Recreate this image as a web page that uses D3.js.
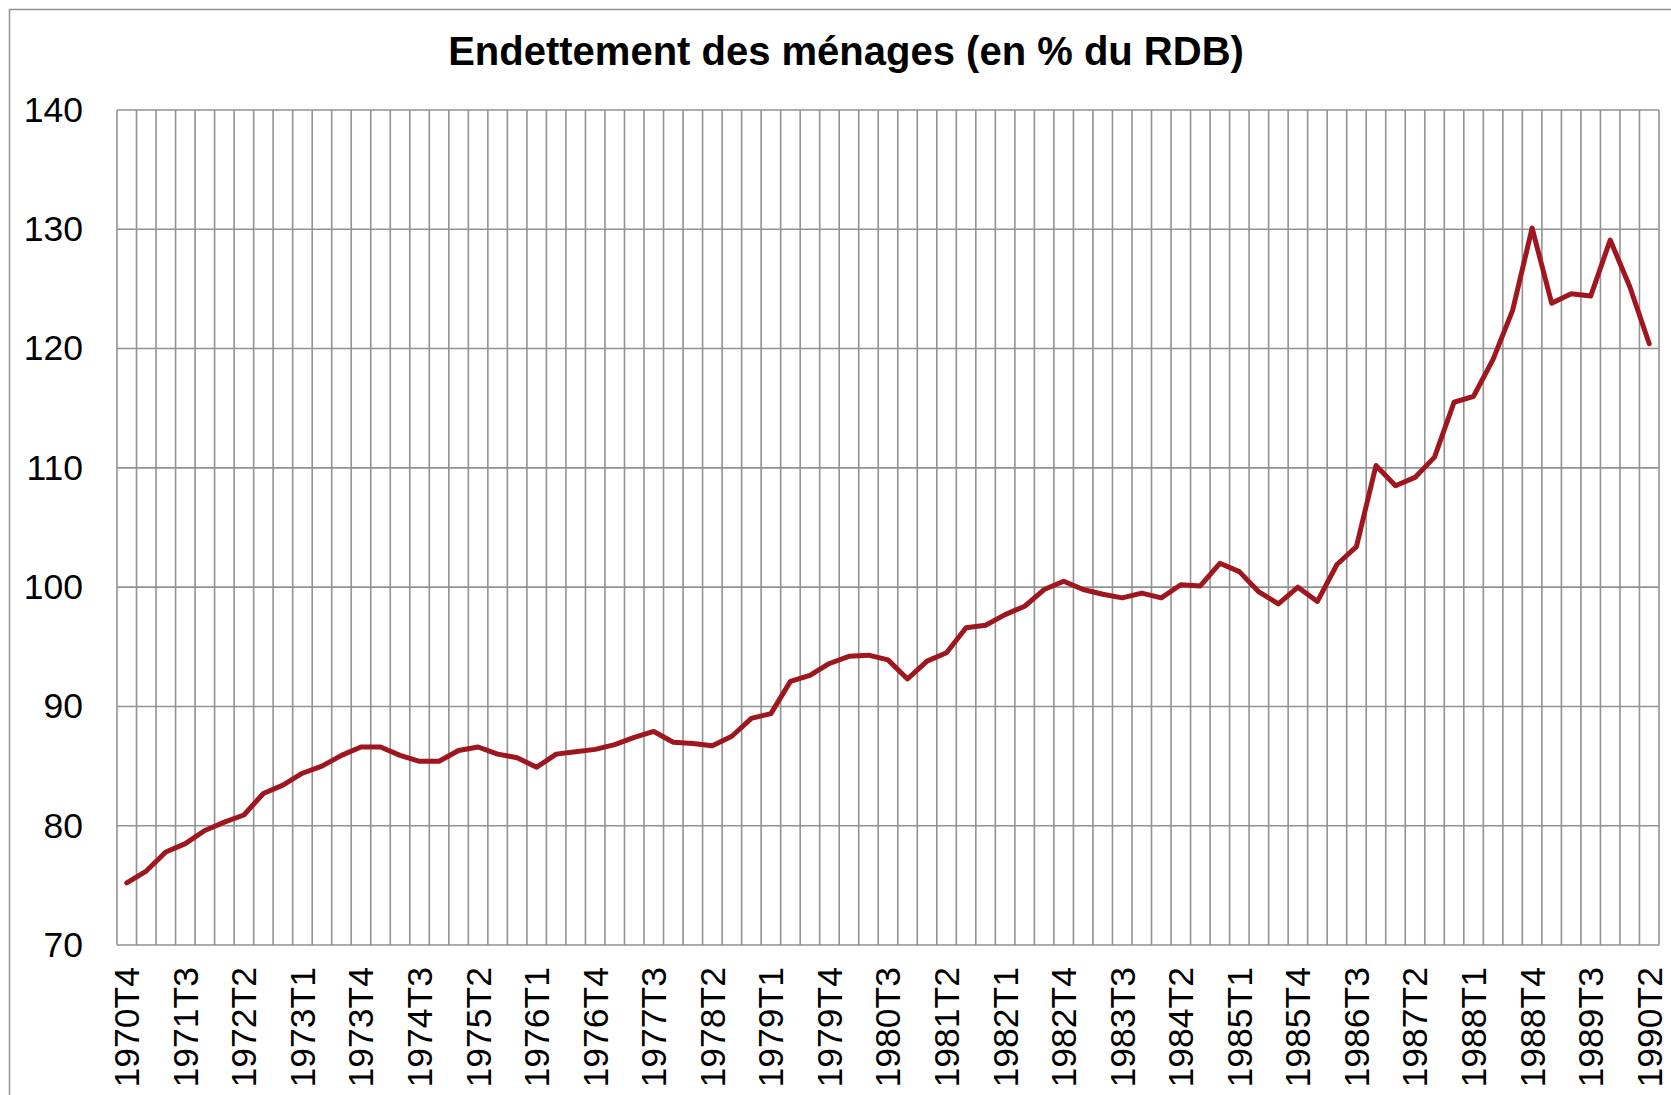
<!DOCTYPE html>
<html>
<head>
<meta charset="utf-8">
<script src="https://cdn.jsdelivr.net/npm/d3@7"></script>
<style>
    html, body { margin: 0; padding: 0; background: #fff; }
    svg { display: block; font-family: "Liberation Sans", Arial, sans-serif; }
</style>
</head>
<body>
<div id="chart"></div>
<script>
const title = "Endettement des ménages (en % du RDB)";

const quarters = [
    "1970T4",
    "1971T1", "1971T2", "1971T3", "1971T4",
    "1972T1", "1972T2", "1972T3", "1972T4",
    "1973T1", "1973T2", "1973T3", "1973T4",
    "1974T1", "1974T2", "1974T3", "1974T4",
    "1975T1", "1975T2", "1975T3", "1975T4",
    "1976T1", "1976T2", "1976T3", "1976T4",
    "1977T1", "1977T2", "1977T3", "1977T4",
    "1978T1", "1978T2", "1978T3", "1978T4",
    "1979T1", "1979T2", "1979T3", "1979T4",
    "1980T1", "1980T2", "1980T3", "1980T4",
    "1981T1", "1981T2", "1981T3", "1981T4",
    "1982T1", "1982T2", "1982T3", "1982T4",
    "1983T1", "1983T2", "1983T3", "1983T4",
    "1984T1", "1984T2", "1984T3", "1984T4",
    "1985T1", "1985T2", "1985T3", "1985T4",
    "1986T1", "1986T2", "1986T3", "1986T4",
    "1987T1", "1987T2", "1987T3", "1987T4",
    "1988T1", "1988T2", "1988T3", "1988T4",
    "1989T1", "1989T2", "1989T3", "1989T4",
    "1990T1", "1990T2"
];

// endettement en % du RDB, un point par trimestre
const debt = [
    75.2,
    76.2, 77.8, 78.5, 79.6,
    80.3, 80.9, 82.7, 83.4,
    84.4, 85.0, 85.9, 86.6,
    86.6, 85.9, 85.4, 85.4,
    86.3, 86.6, 86.0, 85.7,
    84.9, 86.0, 86.2, 86.4,
    86.8, 87.4, 87.9, 87.0,
    86.9, 86.7, 87.5, 89.0,
    89.4, 92.1, 92.6, 93.6,
    94.2, 94.3, 93.9, 92.3,
    93.8, 94.5, 96.6, 96.8,
    97.7, 98.4, 99.8, 100.5,
    99.8, 99.4, 99.1, 99.5,
    99.1, 100.2, 100.1, 102.0,
    101.3, 99.6, 98.6, 100.0,
    98.8, 101.9, 103.4, 110.2,
    108.5, 109.2, 110.9, 115.5,
    116.0, 119.1, 123.2, 130.1,
    123.8, 124.6, 124.4, 129.1,
    125.2, 120.4
];

const yTicks = [70, 80, 90, 100, 110, 120, 130, 140];
// one label every third quarter
const xTickLabels = quarters.filter((q, i) => i % 3 === 0);

const width = 1671;
const height = 1095;
const margin = { top: 110, right: 12, bottom: 150, left: 117 };
const gridColor = "#929292";

const svg = d3.select("#chart").append("svg")
    .attr("width", width)
    .attr("height", height);

// chart frame (right and bottom edges fall outside the picture)
svg.append("rect")
    .attr("x", 9.5)
    .attr("y", 9.5)
    .attr("width", 1700)
    .attr("height", 1200)
    .attr("fill", "none")
    .attr("stroke", gridColor)
    .attr("stroke-width", 1.5);

svg.append("text")
    .attr("x", 846)
    .attr("y", 65)
    .attr("text-anchor", "middle")
    .attr("font-size", "40px")
    .attr("font-weight", "bold")
    .attr("fill", "#000")
    .text(title);

const x = d3.scaleBand()
    .domain(quarters)
    .range([margin.left, width - margin.right])
    .padding(0);

const y = d3.scaleLinear()
    .domain([70, 140])
    .range([height - margin.bottom, margin.top]);

const grid = svg.append("g")
    .attr("stroke", gridColor)
    .attr("stroke-width", 1.6);

// vertical gridlines on category boundaries
const bounds = quarters.map(q => x(q)).concat([x(quarters[quarters.length - 1]) + x.bandwidth()]);
grid.selectAll("line.v")
    .data(bounds)
    .join("line")
    .attr("class", "v")
    .attr("x1", d => d)
    .attr("x2", d => d)
    .attr("y1", y(140))
    .attr("y2", y(70));

grid.selectAll("line.h")
    .data(yTicks)
    .join("line")
    .attr("class", "h")
    .attr("x1", x.range()[0])
    .attr("x2", x.range()[1])
    .attr("y1", d => y(d))
    .attr("y2", d => y(d));

// y axis labels
const yAxis = svg.append("g")
    .attr("transform", `translate(${margin.left},0)`)
    .call(d3.axisLeft(y).tickValues(yTicks).tickSize(0).tickPadding(34));
yAxis.select(".domain").remove();
yAxis.selectAll("text")
    .attr("font-size", "35.5px")
    .attr("font-family", "Liberation Sans, Arial, sans-serif")
    .attr("fill", "#000");

// x axis labels, rotated
const xAxis = svg.append("g")
    .attr("transform", `translate(0,${height - margin.bottom})`)
    .call(d3.axisBottom(x).tickValues(xTickLabels).tickSize(0));
xAxis.select(".domain").remove();
xAxis.selectAll("text")
    .attr("font-size", "35.5px")
    .attr("font-family", "Liberation Sans, Arial, sans-serif")
    .attr("fill", "#000")
    .attr("text-anchor", "end")
    .attr("dy", "0.35em")
    .attr("transform", "translate(0,22) rotate(-90)")
    .attr("x", 0)
    .attr("y", 0);

const line = d3.line()
    .x((d, i) => x(quarters[i]) + x.bandwidth() / 2)
    .y(d => y(d));

svg.append("path")
    .datum(debt)
    .attr("fill", "none")
    .attr("stroke", "#a0161e")
    .attr("stroke-width", 5)
    .attr("stroke-linejoin", "round")
    .attr("stroke-linecap", "round")
    .attr("d", line);
</script>
</body>
</html>
